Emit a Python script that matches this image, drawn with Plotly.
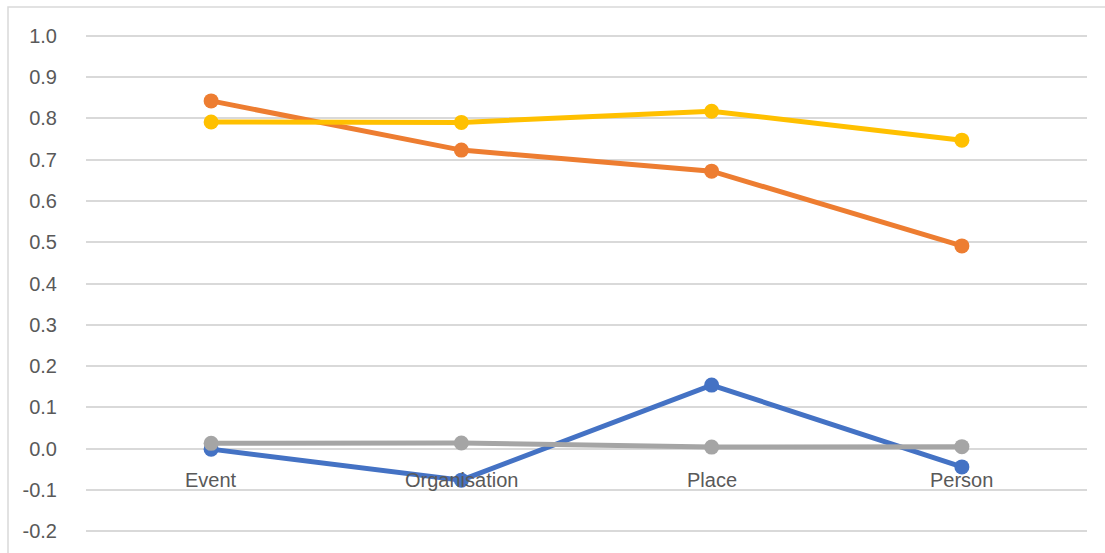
import plotly.graph_objects as go

categories = ["Event", "Organisation", "Place", "Person"]
series_blue = [-0.001, -0.076, 0.154, -0.044]
series_orange = [0.842, 0.723, 0.672, 0.491]
series_gray = [0.013, 0.014, 0.004, 0.005]
series_yellow = [0.791, 0.790, 0.817, 0.747]
y_ticks = [-0.2, -0.1, 0.0, 0.1, 0.2, 0.3, 0.4, 0.5, 0.6, 0.7, 0.8, 0.9, 1.0]

colors = {"blue": "#4472C4", "orange": "#ED7D31", "gray": "#A5A5A5", "yellow": "#FFC000"}
FONT = "Liberation Sans, Arial"

fig = go.Figure()
for name, vals in [("blue", series_blue), ("orange", series_orange),
                   ("gray", series_gray), ("yellow", series_yellow)]:
    fig.add_trace(go.Scatter(
        x=categories, y=vals, mode="lines+markers", name=name,
        line=dict(color=colors[name], width=5),
        marker=dict(color=colors[name], size=15),
        cliponaxis=False, showlegend=False,
    ))

# category labels drawn at the y=0 crossing
for c in categories:
    fig.add_annotation(x=c, y=0, xref="x", yref="y", text=c, showarrow=False,
                       yanchor="middle", yshift=-31,
                       font=dict(family=FONT, size=20, color="#595959"))

L, R, T, B = 86, 18, 34, 20
W, H = 1105, 553
pw = W - L - R
ph = H - T - B
fig.add_shape(type="rect", xref="paper", yref="paper",
              x0=(8 - L) / pw, x1=(W + 10 - L) / pw,
              y0=(H - B - (H + 10)) / ph, y1=(H - B - 7) / ph,
              line=dict(color="#D9D9D9", width=1.5), fillcolor="rgba(0,0,0,0)", layer="below")

fig.update_layout(
    width=W, height=H,
    margin=dict(l=L, r=R, t=T, b=B),
    paper_bgcolor="white", plot_bgcolor="white",
    xaxis=dict(showticklabels=False, showgrid=False, zeroline=False, showline=False,
               range=[-0.5, 3.5]),
    yaxis=dict(range=[-0.204, 1.004], tickvals=y_ticks,
               ticktext=[f"{v:.1f}" for v in y_ticks],
               showgrid=True, gridcolor="#D9D9D9", gridwidth=1.5,
               zeroline=False, showline=False,
               ticks="outside", ticklen=24, tickcolor="rgba(0,0,0,0)",
               tickfont=dict(family=FONT, size=20, color="#595959")),
)

fig.write_html("out.html", config={"displayModeBar": False},
               post_script="document.body.style.margin='0';document.body.style.overflow='hidden';")
